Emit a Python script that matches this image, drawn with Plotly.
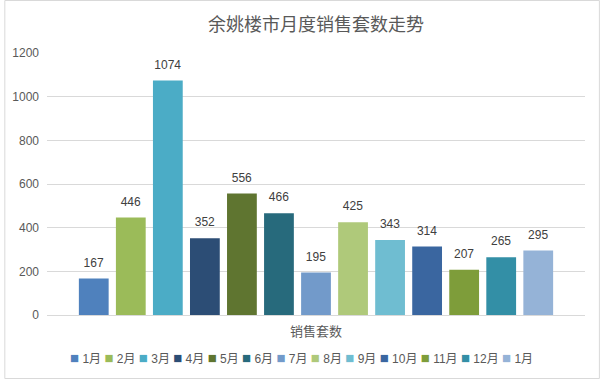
import plotly.graph_objects as go

title = "余姚楼市月度销售套数走势"
category = ["销售套数"]
months = ["1月", "2月", "3月", "4月", "5月", "6月", "7月", "8月", "9月", "10月", "11月", "12月", "1月"]
values = [167, 446, 1074, 352, 556, 466, 195, 425, 343, 314, 207, 265, 295]
colors = ["#4F81BD", "#9BBB59", "#4BACC6", "#2C4D75", "#5F7530", "#276A7C", "#729ACA",
          "#AFC97A", "#6FBDD1", "#3A66A0", "#7E9D3A", "#338FA6", "#95B3D7"]
y_ticks = [0, 200, 400, 600, 800, 1000, 1200]

FONT = "Liberation Sans, Noto Sans CJK SC, sans-serif"

fig = go.Figure()
for i, (m, v, c) in enumerate(zip(months, values, colors)):
    fig.add_trace(go.Bar(
        x=category, y=[v], name=m, marker=dict(color=c, line=dict(width=0)),
        text=[v], textposition="outside", cliponaxis=False,
        texttemplate="<span style='font-size:12px'>%{y}</span><br> ",
        textfont=dict(size=6, color="#404040", family=FONT),
        showlegend=False,
    ))

W, H = 600, 379
L, R, T, B = 43, 15, 53, 64
pw, ph = W - L - R, H - T - B

legend_txt = " ".join(
    f'<span style="color:{c};font-size:15px">■</span> {m}' for m, c in zip(months, colors)
)

fig.update_layout(
    width=W, height=H,
    margin=dict(l=L, r=R, t=T, b=B, pad=0),
    paper_bgcolor="white", plot_bgcolor="white",
    font=dict(family=FONT, color="#595959", size=12),
    title=dict(text=title, x=0.5, xref="paper", xanchor="center", y=1 - 25 / H, yanchor="middle",
               font=dict(size=18, color="#595959", family=FONT)),
    barmode="group", bargap=0.105, bargroupgap=0.196,
    xaxis=dict(showgrid=False, showline=True, linecolor="#D9D9D9", linewidth=1,
               ticks="", tickfont=dict(size=13, color="#595959"), ticklabelstandoff=4),
    yaxis=dict(range=[0, 1200], tickvals=y_ticks, showgrid=True, gridcolor="#D9D9D9",
               gridwidth=1, zeroline=False, ticks="", tickfont=dict(size=12, color="#595959"),
               ticklabelstandoff=7, showline=False),
    showlegend=False,
    annotations=[dict(text=legend_txt, xref="paper", yref="paper", x=(299 - L) / pw, y=(T + ph - 357) / ph,
                      xanchor="center", yanchor="middle", showarrow=False,
                      font=dict(size=12, color="#595959", family=FONT))],
    shapes=[dict(type="rect", xref="paper", yref="paper",
                 x0=-(L - 0.5) / pw, x1=1 + (R - 0.5) / pw,
                 y0=-(B - 0.5) / ph, y1=1 + (T - 0.5) / ph,
                 line=dict(color="#D9D9D9", width=1), fillcolor="rgba(0,0,0,0)", layer="below")],
)

fig.write_html("out.html", config={"displayModeBar": False},
               post_script="document.body.style.margin='0';document.body.style.padding='0';")
